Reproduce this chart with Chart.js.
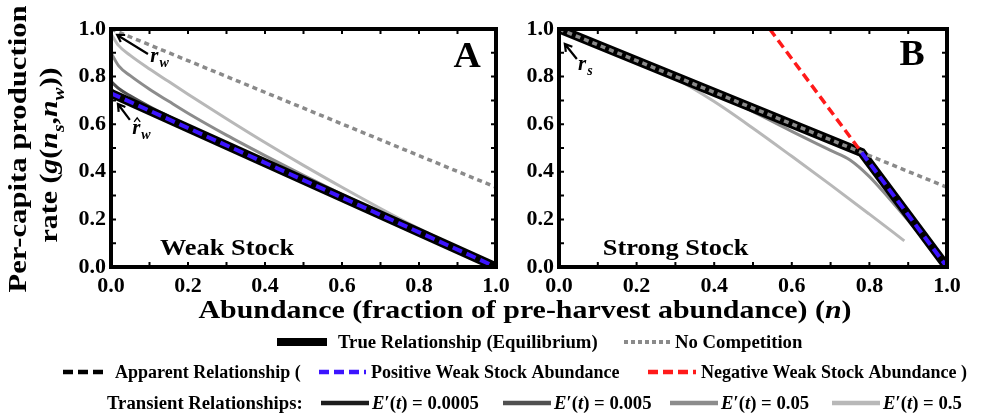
<!DOCTYPE html>
<html>
<head>
<meta charset="utf-8">
<script src="https://cdn.jsdelivr.net/npm/chart.js@4.4.0/dist/chart.umd.min.js"></script>
<style>
  html, body { margin: 0; padding: 0; background: #fff; }
  #figure { position: relative; width: 982px; height: 417px; overflow: hidden; background: #fff; }
  #figure canvas { position: absolute; }
  #chartA { left: 60px; top: 0; }
  #chartB { left: 508px; top: 0; }
  #labels { left: 0; top: 0; pointer-events: none; }
</style>
</head>
<body>
<div id="figure">
  <canvas id="chartA" width="456" height="300"></canvas>
  <canvas id="chartB" width="459" height="300"></canvas>
  <canvas id="labels" width="982" height="417"></canvas>
</div>
<script>
// tick labels shared by both axes of both panels
const axisTicks = [0, 0.2, 0.4, 0.6, 0.8, 1.0];

// no-competition line (same in both panels)
const noCompN = [0, 1.0];
const noComp = [1.0, 0.335];

// Panel A: weak stock
const weakTrueN = [0, 1.0];
const weakTrue = [0.73, 0];
const weakN = [0, 0.02, 0.05, 0.1, 0.15, 0.2, 0.3, 0.4, 0.5, 0.6, 0.7, 0.8, 0.9, 1.0];
const weakE0005 = [0.745, 0.72, 0.697, 0.659, 0.621, 0.585, 0.511, 0.438, 0.365, 0.292, 0.219, 0.146, 0.073, 0];
const weakE005 = [0.78, 0.75, 0.719, 0.674, 0.633, 0.593, 0.516, 0.441, 0.367, 0.293, 0.219, 0.146, 0.073, 0];
const weakE05 = [0.90, 0.845, 0.804, 0.747, 0.696, 0.646, 0.554, 0.468, 0.385, 0.305, 0.227, 0.150, 0.075, 0];
const weakE5 = [0.98, 0.930, 0.889, 0.832, 0.779, 0.726, 0.623, 0.523, 0.427, 0.335, 0.246, 0.161, 0.079, 0];

// Panel B: strong stock
const strongTrueN = [0, 0.78, 1.0];
const strongTrue = [1.0, 0.481, 0];
const strongPosN = [0.78, 1.0];
const strongPos = [0.481, 0];
const strongNegN = [0.543, 0.78];
const strongNeg = [1.0, 0.481];
const strongN = [0, 0.2, 0.4, 0.6, 0.7, 0.75, 0.8, 0.85, 0.9, 0.95, 1.0];
const strongE0005 = [1.0, 0.867, 0.734, 0.601, 0.535, 0.501, 0.437, 0.328, 0.219, 0.109, 0];
const strongE005 = [1.0, 0.867, 0.734, 0.601, 0.532, 0.495, 0.44, 0.33, 0.22, 0.11, 0];
const strongE05 = [1.0, 0.867, 0.733, 0.57, 0.49, 0.45, 0.38, 0.29, 0.195, 0.098, 0];
const strongLightN = [0, 0.1, 0.2, 0.25, 0.3, 0.4, 0.5, 0.6, 0.7, 0.8, 0.89];
const strongE5 = [1.0, 0.934, 0.867, 0.832, 0.792, 0.695, 0.583, 0.465, 0.345, 0.222, 0.11];

const SERIF = '"Liberation Serif", "Times New Roman", serif';
const COL = {
  blue: '#3c14ff', red: '#ff1a1a', dots: '#8a8a8a',
  e0005: '#1c1c1c', e005: '#505050', e05: '#8c8c8c', e5: '#b8b8b8'
};

const pts = (xs, ys) => xs.map((x, i) => ({ x: x, y: ys[i] }));

const line = (data, color, width, order, extra) => Object.assign({
  data: data, borderColor: color, borderWidth: width, order: order,
  pointRadius: 0, tension: 0, fill: false
}, extra || {});

const curve = (data, color, order) =>
  line(data, color, 3, order, { cubicInterpolationMode: 'monotone' });

const segFont = (s, size) =>
  (s.it ? 'italic ' : '') + 'bold ' + (s.sub ? Math.round(size * 0.65) : size) + 'px ' + SERIF;

// mixed upright/italic/subscript text, stretched sideways by sx
function drawRich(ctx, segs, x, y, size, align, sx) {
  sx = sx || 1;
  let w = 0;
  segs.forEach(s => { ctx.font = segFont(s, size); w += ctx.measureText(s.t).width; });
  const start = align === 'center' ? x - w * sx / 2 : x;
  ctx.save();
  ctx.translate(start, y);
  ctx.scale(sx, 1);
  ctx.textAlign = 'left';
  let cx = 0;
  segs.forEach(s => {
    ctx.font = segFont(s, size);
    ctx.fillText(s.t, cx, s.sub ? size * 0.28 : 0);
    cx += ctx.measureText(s.t).width;
  });
  ctx.restore();
}

// frame, inward ticks and panel notes
const panelFrame = {
  id: 'panelFrame',
  afterDatasetsDraw(chart, args, opts) {
    const { ctx, chartArea: a, scales: { x, y } } = chart;
    ctx.save();
    ctx.strokeStyle = '#000';
    ctx.lineWidth = 2;
    ctx.beginPath();
    for (let i = 1; i < 10; i++) {
      const px = x.getPixelForValue(i / 10);
      const py = y.getPixelForValue(i / 10);
      ctx.moveTo(px, a.bottom); ctx.lineTo(px, a.bottom - 5);
      ctx.moveTo(px, a.top); ctx.lineTo(px, a.top + 5);
      ctx.moveTo(a.left, py); ctx.lineTo(a.left + 5, py);
      ctx.moveTo(a.right, py); ctx.lineTo(a.right - 5, py);
    }
    ctx.stroke();
    ctx.lineWidth = 4;
    ctx.strokeRect(a.left, a.top, a.right - a.left, a.bottom - a.top);

    const X = v => x.getPixelForValue(v);
    const Y = v => y.getPixelForValue(v);
    ctx.fillStyle = '#000';
    ctx.textBaseline = 'alphabetic';

    // big panel letter
    drawRich(ctx, [{ t: opts.letter.text }], X(opts.letter.x), Y(opts.letter.y), 36, 'center', 1.05);

    // stock name
    drawRich(ctx, [{ t: opts.stock.text }], X(opts.stock.x), Y(opts.stock.y), 24, 'left', 1.1);

    // arrows pointing at intercepts
    opts.arrows.forEach(ar => {
      const fx = X(ar.from[0]), fy = Y(ar.from[1]);
      const tx = X(ar.to[0]), ty = Y(ar.to[1]);
      const ang = Math.atan2(ty - fy, tx - fx);
      ctx.lineWidth = 2.2;
      ctx.beginPath();
      ctx.moveTo(fx, fy); ctx.lineTo(tx, ty);
      ctx.moveTo(tx - 8 * Math.cos(ang - 0.55), ty - 8 * Math.sin(ang - 0.55));
      ctx.lineTo(tx, ty);
      ctx.lineTo(tx - 8 * Math.cos(ang + 0.55), ty - 8 * Math.sin(ang + 0.55));
      ctx.stroke();

      const lx = X(ar.at[0]), ly = Y(ar.at[1]);
      ctx.textAlign = 'left';
      ctx.font = 'italic bold 21px ' + SERIF;
      ctx.fillText('r', lx, ly);
      const rw = ctx.measureText('r').width;
      if (ar.hat) {
        ctx.lineWidth = 1.3;
        ctx.beginPath();
        ctx.moveTo(lx + 2, ly - 12);
        ctx.lineTo(lx + 5, ly - 16);
        ctx.lineTo(lx + 8, ly - 12);
        ctx.stroke();
      }
      ctx.font = 'italic bold 14px ' + SERIF;
      ctx.fillText(ar.sub, lx + rw + 1, ly + 5);
    });
    ctx.restore();
  }
};

const axis = (isX) => ({
  type: 'linear', min: 0, max: 1,
  grid: { display: false, drawTicks: false },
  border: { display: false },
  afterBuildTicks: s => { s.ticks = axisTicks.map(v => ({ value: v })); },
  afterFit: s => {
    if (isX) { s.height = 33; s.paddingLeft = 0; s.paddingRight = 0; }
    else { s.width = 51; s.paddingTop = 0; s.paddingBottom = 0; }
  },
  ticks: {
    color: '#000', padding: isX ? 6 : 5,
    font: { family: SERIF, weight: 'bold', size: 22 },
    callback: v => Number(v).toFixed(1)
  }
});

const baseOptions = (notes) => ({
  responsive: false, animation: false, events: [],
  layout: { padding: { top: 29, right: 20, left: 0, bottom: 0 } },
  plugins: { legend: { display: false }, tooltip: { enabled: false }, panelFrame: notes },
  scales: { x: axis(true), y: axis(false) }
});

new Chart(document.getElementById('chartA'), {
  type: 'line',
  data: {
    datasets: [
      line(pts(weakTrueN, weakTrue), COL.blue, 4, 0, { borderDash: [10, 5] }),
      line(pts(weakTrueN, weakTrue), '#000', 9, 1),
      line(pts(noCompN, noComp), COL.dots, 3.5, 2, { borderDash: [5, 4] }),
      curve(pts(weakN, weakE0005), COL.e0005, 3),
      curve(pts(weakN, weakE005), COL.e005, 4),
      curve(pts(weakN, weakE05), COL.e05, 5),
      curve(pts(weakN, weakE5), COL.e5, 6)
    ]
  },
  options: baseOptions({
    letter: { text: 'A', x: 0.925, y: 0.84 },
    stock: { text: 'Weak Stock', x: 0.127, y: 0.05 },
    arrows: [
      { from: [0.096, 0.895], to: [0.016, 0.975], at: [0.102, 0.861], sub: 'w', hat: false },
      { from: [0.049, 0.618], to: [0.018, 0.685], at: [0.055, 0.559], sub: 'w', hat: true }
    ]
  }),
  plugins: [panelFrame]
});

new Chart(document.getElementById('chartB'), {
  type: 'line',
  data: {
    datasets: [
      line(pts(strongPosN, strongPos), COL.blue, 4, 0, { borderDash: [10, 5] }),
      line(pts(strongNegN, strongNeg), COL.red, 3.5, 1, { borderDash: [9, 5] }),
      line(pts(noCompN, noComp), COL.dots, 3.5, 2, { borderDash: [5, 4] }),
      line(pts(strongTrueN, strongTrue), '#000', 9, 3),
      curve(pts(strongN, strongE0005), COL.e0005, 4),
      curve(pts(strongN, strongE005), COL.e005, 5),
      curve(pts(strongN, strongE05), COL.e05, 6),
      curve(pts(strongLightN, strongE5), COL.e5, 7)
    ]
  },
  options: baseOptions({
    letter: { text: 'B', x: 0.91, y: 0.849 },
    stock: { text: 'Strong Stock', x: 0.113, y: 0.05 },
    arrows: [
      { from: [0.046, 0.874], to: [0.015, 0.937], at: [0.049, 0.828], sub: 's', hat: false }
    ]
  }),
  plugins: [panelFrame]
});

// shared axis titles and the legend
const lc = document.getElementById('labels').getContext('2d');

function swatch(ctx, x1, x2, y, color, width, dash) {
  ctx.save();
  ctx.strokeStyle = color;
  ctx.lineWidth = width;
  ctx.setLineDash(dash || []);
  ctx.beginPath();
  ctx.moveTo(x1, y); ctx.lineTo(x2, y);
  ctx.stroke();
  ctx.restore();
}

lc.fillStyle = '#000';
lc.textBaseline = 'alphabetic';

// y title, two rotated lines
lc.save();
lc.translate(26, 149);
lc.rotate(-Math.PI / 2);
drawRich(lc, [{ t: 'Per-capita production' }], 0, 0, 26, 'center', 1.18);
lc.restore();
lc.save();
lc.translate(57, 155);
lc.rotate(-Math.PI / 2);
drawRich(lc, [
  { t: 'rate (' }, { t: 'g', it: true }, { t: '(' }, { t: 'n', it: true }, { t: 's', it: true, sub: true },
  { t: ',' }, { t: 'n', it: true }, { t: 'w', it: true, sub: true }, { t: '))' }
], 0, 0, 26, 'center', 1.15);
lc.restore();

// x title
drawRich(lc, [{ t: 'Abundance (fraction of pre-harvest abundance) (' }, { t: 'n', it: true }, { t: ')' }],
  525, 318, 26, 'center', 1.15);

// legend row 1
const LX = 1.04;
swatch(lc, 277, 327, 342, '#000', 8);
drawRich(lc, [{ t: 'True Relationship (Equilibrium)' }], 338, 348, 18, 'left', LX);
swatch(lc, 624, 670, 342, COL.dots, 4, [4, 3]);
drawRich(lc, [{ t: 'No Competition' }], 675, 348, 18, 'left', LX);

// legend row 2
swatch(lc, 63, 107, 372, '#000', 4.5, [10, 5]);
drawRich(lc, [{ t: 'Apparent Relationship (' }], 115, 378, 18, 'left');
swatch(lc, 319, 366, 372, COL.blue, 4.5, [10, 5]);
drawRich(lc, [{ t: 'Positive Weak Stock Abundance' }], 371, 378, 18, 'left');
swatch(lc, 648, 696, 372, COL.red, 4.5, [10, 5]);
drawRich(lc, [{ t: 'Negative Weak Stock Abundance )' }], 701, 378, 18, 'left');

// legend row 3
drawRich(lc, [{ t: 'Transient Relationships:' }], 107, 409, 18, 'left', LX);
const transient = [
  { x: 321, color: COL.e0005, label: '0.0005' },
  { x: 503, color: COL.e005, label: '0.005' },
  { x: 670, color: COL.e05, label: '0.05' },
  { x: 832, color: COL.e5, label: '0.5' }
];
transient.forEach(t => {
  swatch(lc, t.x, t.x + 48, 403, t.color, 4.5);
  drawRich(lc, [{ t: 'E', it: true }, { t: '\u2032(' }, { t: 't', it: true }, { t: ') = ' + t.label }],
    t.x + 51, 409, 18, 'left', LX);
});
</script>
</body>
</html>
